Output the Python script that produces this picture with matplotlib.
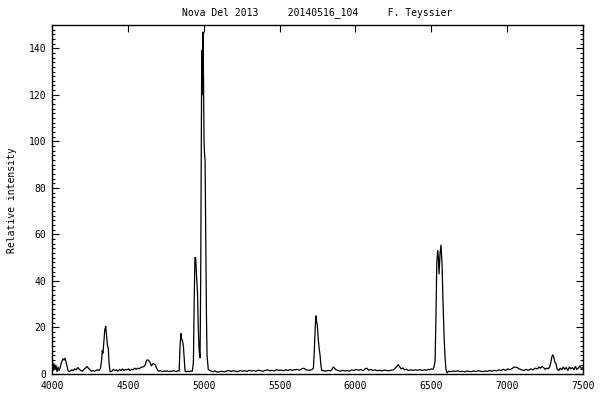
import matplotlib
matplotlib.use("Agg")
import matplotlib.pyplot as plt
from matplotlib.ticker import MultipleLocator

title_text = "Nova Del 2013     20140516_104     F. Teyssier"
y_label = "Relative intensity"
x_ticks = [4000, 4500, 5000, 5500, 6000, 6500, 7000, 7500]
y_ticks = [0, 20, 40, 60, 80, 100, 120, 140]

wavelength = [
    4000, 4007, 4013, 4020, 4026, 4033, 4040, 4046, 4053, 4060, 4066, 4073, 4080, 4086, 4093,
    4100, 4106, 4113, 4120, 4130, 4140, 4150, 4160, 4170, 4180, 4190, 4200, 4210, 4220, 4230,
    4240, 4250, 4260, 4270, 4280, 4290, 4300, 4310, 4320, 4327, 4331, 4336, 4342, 4348, 4354,
    4360, 4366, 4371, 4376, 4382, 4395, 4405, 4415, 4425, 4435, 4445, 4455, 4465, 4475, 4485,
    4495, 4505, 4515, 4525, 4535, 4545, 4555, 4565, 4575, 4585, 4595, 4605, 4615, 4624, 4635,
    4646, 4655, 4666, 4680, 4690, 4698, 4706, 4714, 4722, 4730, 4740, 4750, 4760, 4770, 4780,
    4790, 4800, 4810, 4820, 4830, 4838, 4844, 4850, 4855, 4861, 4866, 4872, 4877, 4885, 4895,
    4905, 4915, 4925, 4932, 4937, 4942, 4947, 4953, 4959, 4964, 4970, 4976, 4980, 4984, 4987,
    4991, 4995, 4999, 5002, 5005, 5009, 5013, 5018, 5022, 5030, 5040, 5050, 5060, 5075, 5090,
    5105, 5120, 5135, 5150, 5165, 5180, 5195, 5210, 5225, 5240, 5255, 5270, 5285, 5300, 5315,
    5330, 5345, 5360, 5375, 5390, 5405, 5420, 5435, 5450, 5465, 5480, 5495, 5510, 5525, 5540,
    5555, 5570, 5585, 5600, 5615, 5630, 5645, 5660, 5675, 5690, 5705, 5715, 5723, 5729, 5735,
    5740, 5745, 5749, 5755, 5761, 5767, 5772, 5778, 5790, 5805, 5820, 5835, 5846, 5854, 5862,
    5872, 5885, 5900, 5915, 5930, 5945, 5960, 5975, 5990, 6005, 6020, 6035, 6050, 6063, 6075,
    6088, 6100, 6115, 6130, 6145, 6160, 6175, 6190, 6205, 6220, 6235, 6250, 6262, 6272, 6283,
    6292, 6302, 6312, 6324, 6336, 6350, 6365, 6380, 6395, 6410, 6425, 6440, 6455, 6470, 6480,
    6490, 6500, 6510, 6518, 6525, 6531, 6536, 6542, 6547, 6551, 6555, 6558, 6564, 6571, 6579,
    6585, 6591, 6596, 6602, 6615, 6630, 6645, 6660, 6675, 6690, 6705, 6720, 6735, 6750, 6765,
    6780, 6795, 6810, 6825, 6840, 6855, 6870, 6885, 6900, 6915, 6930, 6945, 6960, 6975, 6990,
    7005, 7020, 7035, 7050, 7065, 7080, 7095, 7110, 7125, 7140, 7155, 7170, 7185, 7200, 7210,
    7220, 7230, 7240, 7250, 7260, 7270, 7280, 7288, 7295, 7302, 7308, 7315, 7322, 7330, 7340,
    7350, 7360, 7370, 7380, 7390, 7400, 7410, 7420, 7430, 7440, 7450, 7460, 7470, 7480, 7490,
    7500,
]

intensity = [
    3.5, 1.5, 4.5, 2.0, 3.8, 1.0, 3.0, 1.5, 2.5, 4.5, 5.5, 6.5, 6.0, 6.8, 5.0,
    3.0, 1.5, 1.0, 1.2, 1.8, 1.5, 2.2, 1.8, 2.8, 2.0, 1.5, 1.2, 2.0, 2.5, 3.2,
    2.5, 1.8, 1.2, 1.5, 1.2, 1.5, 1.8, 1.5, 2.5, 6.0, 10.0, 9.0, 14.0, 19.0, 20.5,
    16.0, 12.0, 11.0, 5.0, 1.0, 1.2, 2.0, 1.5, 1.8, 1.2, 2.0, 1.5, 2.2, 1.5, 2.0,
    1.8, 2.2, 1.5, 2.0, 1.8, 2.5, 2.0, 2.5, 2.2, 2.8, 3.0, 3.2, 4.0, 6.0, 6.0,
    5.0, 3.5, 4.5, 4.0, 2.5, 1.5, 1.2, 1.5, 1.2, 1.0, 1.3, 1.1, 1.4, 1.0, 1.2,
    1.1, 1.5, 1.2, 1.0, 1.5, 1.2, 12.0, 17.4, 15.0, 14.0, 12.0, 6.0, 1.2, 1.0, 1.2,
    1.0, 1.3, 1.2, 5.0, 30.0, 50.0, 50.0, 42.0, 35.0, 20.0, 10.0, 7.0, 40.0, 100.0, 139.0,
    120.0, 147.0, 125.0, 100.0, 95.0, 92.0, 60.0, 25.0, 8.0, 2.0, 1.5, 1.2, 1.0, 1.3, 0.8,
    1.0, 1.2, 0.9, 1.3, 1.5, 1.1, 1.4, 1.2, 1.0, 1.5, 1.2, 1.4, 1.1, 1.6, 1.3,
    1.5, 1.2, 1.7, 1.4, 1.2, 1.5, 1.8, 1.4, 1.6, 1.3, 1.9, 1.5, 1.7, 1.4, 1.8,
    1.5, 1.9, 1.6, 1.8, 2.0, 1.6, 2.2, 2.5, 1.8, 1.6, 1.7, 2.0, 2.5, 10.0, 20.0,
    25.0, 22.0, 21.0, 15.0, 11.0, 8.0, 4.0, 1.5, 1.4, 1.2, 1.6, 1.3, 2.0, 3.0, 2.5,
    1.8, 1.5, 1.2, 1.6, 1.3, 1.5, 1.2, 1.8, 1.5, 2.0, 1.6, 1.9, 1.4, 2.2, 2.5,
    1.6, 2.0, 1.5, 1.8, 1.4, 1.6, 1.3, 1.7, 1.5, 1.4, 1.6, 1.8, 2.5, 3.2, 4.0,
    3.0, 2.2, 2.6, 1.8, 2.0, 1.5, 1.8, 1.5, 1.8, 1.6, 1.9, 1.5, 1.8, 1.6, 2.0,
    1.8, 2.2, 2.0, 3.0, 5.7, 25.0, 47.0, 53.0, 50.0, 43.0, 48.0, 52.0, 55.4, 47.0, 27.0,
    15.0, 7.0, 2.5, 0.5, 1.2, 1.0, 1.3, 1.1, 1.4, 1.0, 1.2, 0.9, 1.3, 1.1, 1.0,
    1.3, 1.1, 1.4, 1.2, 1.0, 1.3, 1.1, 1.5, 1.2, 1.6, 1.3, 1.8, 1.5, 2.0, 1.6,
    2.2, 1.8, 2.5, 3.0, 2.8, 2.2, 1.8, 1.5, 2.0, 1.6, 2.2, 1.8, 2.5, 2.2, 3.0,
    2.5, 3.2, 2.8, 2.0, 2.5, 2.2, 3.0, 5.0, 7.5, 8.3, 7.0, 5.0, 4.5, 2.0, 1.5,
    2.5, 1.8, 3.0, 2.0, 2.8, 1.5, 3.0, 2.2, 2.8, 1.8, 3.2, 2.0, 2.6, 3.5, 2.2,
    2.8,
]

font = "DejaVu Sans Mono"
fs = 7

fig = plt.figure(figsize=(6, 4), dpi=100)
ax = fig.add_axes([52 / 600, 26 / 400, 531 / 600, 349 / 400])
ax.plot(wavelength, intensity, color="black", lw=0.9)

ax.set_xlim(4000, 7500)
ax.set_ylim(0, 150)
ax.set_xticks(x_ticks)
ax.set_xticklabels([str(v) for v in x_ticks], family=font, fontsize=fs)
ax.set_yticks(y_ticks)
ax.set_yticklabels([str(v) for v in y_ticks], family=font, fontsize=fs)
ax.yaxis.set_minor_locator(MultipleLocator(2))

ax.tick_params(axis="x", which="both", bottom=False, top=True, direction="in",
               length=5, width=0.8, pad=5, labelbottom=True)
ax.tick_params(axis="y", which="major", left=True, right=True, direction="in",
               length=5, width=0.8, pad=4)
ax.tick_params(axis="y", which="minor", left=True, right=True, direction="in",
               length=2.5, width=0.8)
for s in ax.spines.values():
    s.set_linewidth(1.0)

fig.text(317 / 600, 1 - 13 / 400, title_text, ha="center", va="center",
         family=font, fontsize=fs)
fig.text(12 / 600, 0.5, y_label, rotation=90, ha="center", va="center",
         family=font, fontsize=fs)

fig.savefig("out.png", dpi=100)
